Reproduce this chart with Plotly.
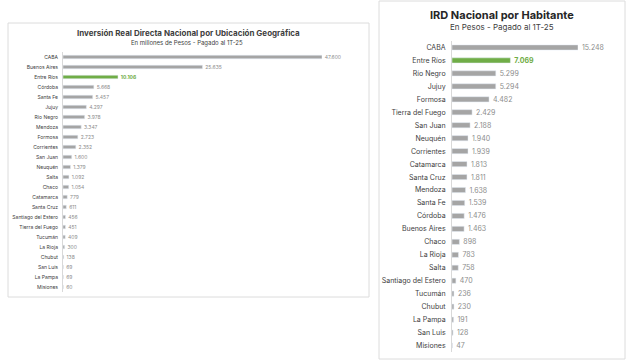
import plotly.graph_objects as go

# Left chart: Inversión Real Directa Nacional (millones de pesos)
left_cats = ["CABA", "Buenos Aires", "Entre Ríos", "Córdoba", "Santa Fe", "Jujuy",
             "Río Negro", "Mendoza", "Formosa", "Corrientes", "San Juan", "Neuquén",
             "Salta", "Chaco", "Catamarca", "Santa Cruz", "Santiago del Estero",
             "Tierra del Fuego", "Tucumán", "La Rioja", "Chubut", "San Luis",
             "La Pampa", "Misiones"]
left_vals = [47600, 25635, 10106, 5668, 5457, 4297, 3978, 3347, 2723, 2352, 1600, 1379,
             1092, 1054, 779, 611, 456, 451, 409, 300, 138, 69, 69, 60]

# Right chart: IRD Nacional por Habitante (pesos)
right_cats = ["CABA", "Entre Ríos", "Río Negro", "Jujuy", "Formosa", "Tierra del Fuego",
              "San Juan", "Neuquén", "Corrientes", "Catamarca", "Santa Cruz", "Mendoza",
              "Santa Fe", "Córdoba", "Buenos Aires", "Chaco", "La Rioja", "Salta",
              "Santiago del Estero", "Tucumán", "Chubut", "La Pampa", "San Luis", "Misiones"]
right_vals = [15248, 7069, 5299, 5294, 4482, 2429, 2188, 1940, 1939, 1813, 1811, 1638,
              1539, 1476, 1463, 898, 783, 758, 470, 236, 230, 191, 128, 47]

highlight = "Entre Ríos"
GREY = "#a5a5a5"
GREEN = "#70ad47"
LABEL = "#8c8c8c"
FONT = "Inter"
GAP = "\u00a0\u00a0"

def fmt(v):
    return f"{v:,}".replace(",", ".")

def texts(cats, vals):
    return [GAP + (f"<b>{fmt(v)}</b>" if c == highlight else fmt(v)) for c, v in zip(cats, vals)]

def colors(cats, base):
    return [GREEN if c == highlight else base for c in cats]

W, H = 642, 361
def px(x):
    return x / W
def py(y):
    return 1 - y / H

fig = go.Figure()
fig.add_trace(go.Bar(
    y=left_cats, x=left_vals, orientation="h", xaxis="x", yaxis="y",
    marker=dict(color=colors(left_cats, GREY)), width=0.35,
    text=texts(left_cats, left_vals), textposition="outside", cliponaxis=False,
    constraintext="none",
    textfont=dict(size=5, color=colors(left_cats, LABEL), family=FONT),
    hoverinfo="skip"))
fig.add_trace(go.Bar(
    y=right_cats, x=right_vals, orientation="h", xaxis="x2", yaxis="y2",
    marker=dict(color=colors(right_cats, GREY)), width=0.4,
    text=texts(right_cats, right_vals), textposition="outside", cliponaxis=False,
    constraintext="none",
    textfont=dict(size=7, color=colors(right_cats, LABEL), family=FONT),
    hoverinfo="skip"))

fig.update_layout(
    width=W, height=H, margin=dict(l=0, r=0, t=0, b=0),
    paper_bgcolor="white", plot_bgcolor="white", showlegend=False,
    font=dict(family=FONT, color="#404040"),
    xaxis=dict(domain=[px(63), px(322)], range=[0, max(left_vals)], visible=False,
               anchor="y"),
    yaxis=dict(domain=[py(292), py(52)], autorange="reversed", showline=True,
               linecolor="#d9d9d9", linewidth=1, ticks="", showgrid=False,
               tickfont=dict(size=5, color="#404040", family=FONT), ticklabelstandoff=3,
               anchor="x"),
    xaxis2=dict(domain=[px(452), px(578)], range=[0, max(right_vals)], visible=False,
                anchor="y2"),
    yaxis2=dict(domain=[py(352), py(41)], autorange="reversed", showline=True,
                linecolor="#d9d9d9", linewidth=1, ticks="", showgrid=False,
                tickfont=dict(size=7, color="#404040", family=FONT), ticklabelstandoff=4,
                anchor="x2"),
    shapes=[
        dict(type="rect", xref="paper", yref="paper", x0=px(8), x1=px(369),
             y0=py(297), y1=py(23), line=dict(color="#dcdcdc", width=1)),
        dict(type="rect", xref="paper", yref="paper", x0=px(379), x1=px(625),
             y0=py(359), y1=py(1), line=dict(color="#dcdcdc", width=1)),
    ],
    annotations=[
        dict(text="<b>Inversión Real Directa Nacional por Ubicación Geográfica</b>",
             xref="paper", yref="paper", x=px(189), y=py(33), showarrow=False,
             font=dict(size=8, color="#404040", family=FONT), xanchor="center", yanchor="middle"),
        dict(text="En millones de Pesos - Pagado al 1T-25",
             xref="paper", yref="paper", x=px(187), y=py(43), showarrow=False,
             font=dict(size=6, color="#404040", family=FONT), xanchor="center", yanchor="middle"),
        dict(text="<b>IRD Nacional por Habitante</b>",
             xref="paper", yref="paper", x=px(502), y=py(15), showarrow=False,
             font=dict(size=11, color="#262626", family=FONT), xanchor="center", yanchor="middle"),
        dict(text="En Pesos - Pagado al 1T-25",
             xref="paper", yref="paper", x=px(502), y=py(27), showarrow=False,
             font=dict(size=8, color="#404040", family=FONT), xanchor="center", yanchor="middle"),
    ],
)

fig.write_html("out.html")
